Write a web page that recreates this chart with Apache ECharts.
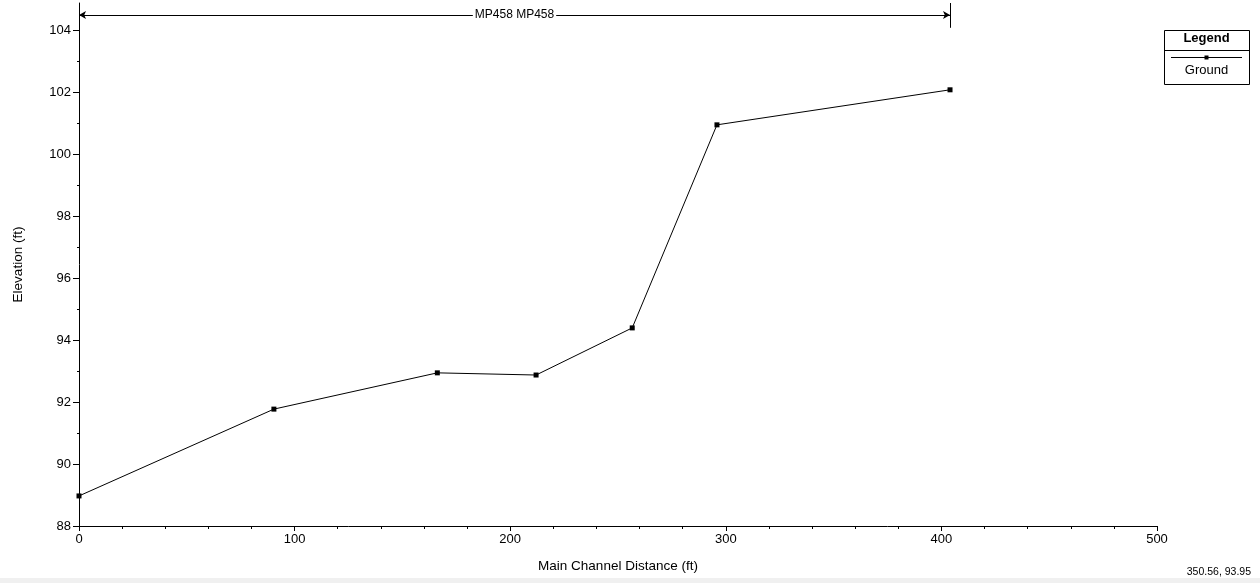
<!DOCTYPE html>
<html>
<head>
<meta charset="utf-8">
<script src="https://cdn.jsdelivr.net/npm/echarts@6/dist/echarts.min.js"></script>
<style>
  html, body { margin: 0; padding: 0; background: #fff; }
  #chart { width: 1260px; height: 583px; }
</style>
</head>
<body>
<div id="chart"></div>
<script>
// ---- data ----
const seriesName = 'Ground';
const stations = [0, 90.4, 166.2, 212.0, 256.6, 295.9, 404.0];
const elevations = [88.97, 91.77, 92.94, 92.87, 94.39, 100.94, 102.07];
const yMajorTicks = [88, 90, 92, 94, 96, 98, 100, 102, 104];
const yMinorTicks = [89, 91, 93, 95, 97, 99, 101, 103];
const xTickLabels = [0, 100, 200, 300, 400, 500];
const reachLabel = 'MP458 MP458';
const reachExtent = [0, 404];
const reachLevel = 104.48;
const reachEndMark = [104.07, 104.87];
const cursorReadout = '350.56, 93.95';
const xName = 'Main Channel Distance (ft)';
const yName = 'Elevation (ft)';

const FONT = '"Liberation Sans", Arial, sans-serif';
const chart = echarts.init(document.getElementById('chart'));

const yMin = 88, yMax = 104.87;

chart.setOption({
  animation: false,
  backgroundColor: '#fff',
  grid: { left: 79, right: 103, top: 3, bottom: 57, containLabel: false },
  xAxis: {
    type: 'value', min: 0, max: 500, interval: 100,
    name: xName, nameLocation: 'middle', nameGap: 33,
    nameTextStyle: { color: '#000', fontSize: 13.5, fontFamily: FONT },
    axisLine: { show: true, lineStyle: { color: '#000', width: 1 } },
    axisTick: { show: true, length: 5, lineStyle: { color: '#000' } },
    minorTick: { show: true, splitNumber: 5, length: 3, lineStyle: { color: '#000' } },
    splitLine: { show: false },
    axisLabel: {
      color: '#000', fontSize: 13, fontFamily: FONT, margin: 7,
      customValues: xTickLabels
    }
  },
  yAxis: [{
    type: 'value', min: yMin, max: yMax,
    name: yName, nameLocation: 'middle', nameGap: 54, nameRotate: 90,
    nameTextStyle: { color: '#000', fontSize: 13.5, fontFamily: FONT },
    axisLine: { show: true, onZero: false, lineStyle: { color: '#000', width: 1 } },
    axisTick: { show: true, length: 6, customValues: yMajorTicks, lineStyle: { color: '#000' } },
    splitLine: { show: false },
    axisLabel: {
      color: '#000', fontSize: 13, fontFamily: FONT, margin: 8,
      customValues: yMajorTicks
    }
  }, {
    type: 'value', min: yMin, max: yMax, position: 'left', offset: 0,
    axisLine: { show: false },
    axisTick: { show: true, length: 2, customValues: yMinorTicks, lineStyle: { color: '#000' } },
    axisLabel: { show: false },
    splitLine: { show: false }
  }],
  series: [{
    name: seriesName,
    type: 'line',
    data: stations.map((s, i) => [s, elevations[i]]),
    symbol: 'rect', symbolSize: 5, showAllSymbol: true,
    itemStyle: { color: '#000' },
    lineStyle: { color: '#000', width: 1 },
    emphasis: { disabled: true },
    silent: true,
    markLine: {
      silent: true,
      animation: false,
      lineStyle: { color: '#000', width: 1, type: 'solid' },
      emphasis: { disabled: true },
      data: [
        [
          { coord: [reachExtent[0], reachLevel], symbol: 'arrow', symbolSize: [6, 7] },
          { coord: [reachExtent[1], reachLevel], symbol: 'arrow', symbolSize: [6, 7],
            label: {
              show: true, position: 'middle', formatter: reachLabel,
              color: '#000', fontSize: 12, fontFamily: FONT,
              backgroundColor: '#fff', padding: [1, 2], distance: 0,
              verticalAlign: 'middle'
            } }
        ],
        [
          { coord: [reachExtent[1], reachEndMark[0]], symbol: 'none' },
          { coord: [reachExtent[1], reachEndMark[1]], symbol: 'none', label: { show: false } }
        ]
      ]
    }
  }],
  graphic: [
    // legend box
    { type: 'rect', left: 1164, top: 30, shape: { width: 85, height: 54 },
      style: { fill: '#fff', stroke: '#000', lineWidth: 1 } },
    { type: 'line', shape: { x1: 1164, y1: 50.5, x2: 1249, y2: 50.5 },
      style: { stroke: '#000', lineWidth: 1 } },
    { type: 'text', x: 1206.5, y: 38, style: { text: 'Legend', fill: '#000',
      font: 'bold 13px ' + FONT, textAlign: 'center', textVerticalAlign: 'middle' } },
    { type: 'line', shape: { x1: 1171, y1: 57.5, x2: 1242, y2: 57.5 },
      style: { stroke: '#000', lineWidth: 1 } },
    { type: 'rect', shape: { x: 1204.5, y: 55.5, width: 4, height: 4 },
      style: { fill: '#000' } },
    { type: 'text', x: 1206.5, y: 70, style: { text: seriesName, fill: '#000',
      font: '13px ' + FONT, textAlign: 'center', textVerticalAlign: 'middle' } },
    // status bar
    { type: 'rect', shape: { x: 0, y: 578, width: 1260, height: 5 },
      style: { fill: '#f0f0f0' } },
    { type: 'text', x: 1251, y: 572, style: { text: cursorReadout, fill: '#000',
      font: '10.5px ' + FONT, textAlign: 'right', textVerticalAlign: 'middle' } }
  ]
});
</script>
</body>
</html>
